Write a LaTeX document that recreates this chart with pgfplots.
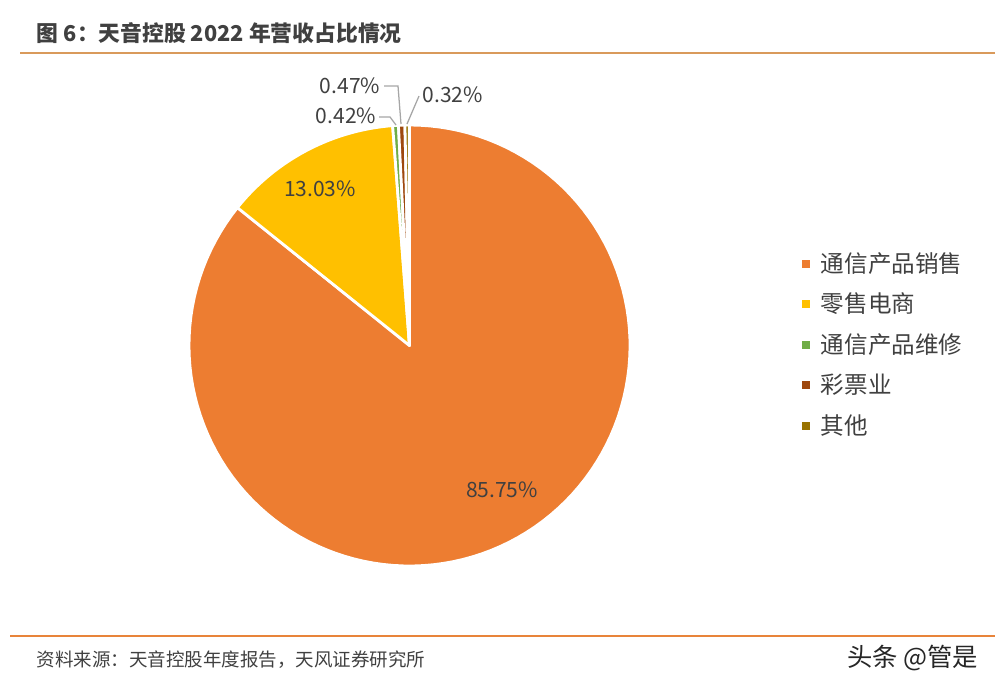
\documentclass[border=0pt]{standalone}
\usepackage{pgfplots}
\pgfplotsset{compat=1.18}
\usepackage{fontspec}
\setmainfont{Noto Sans CJK SC}
\definecolor{cA}{HTML}{ED7D31}
\definecolor{cB}{HTML}{FFC000}
\definecolor{cC}{HTML}{70AD47}
\definecolor{cD}{HTML}{9E480E}
\definecolor{cE}{HTML}{997300}
\definecolor{txt}{HTML}{404040}
\definecolor{lead}{HTML}{A6A6A6}
\definecolor{rule1}{HTML}{D99A5B}
\definecolor{rule2}{HTML}{E8843A}

% shares in percent
\def\pA{85.75}\def\pB{13.03}\def\pC{0.42}\def\pD{0.47}\def\pE{0.32}
\pgfmathsetmacro\aA{\pA*3.6}
\pgfmathsetmacro\aB{\aA+\pB*3.6}
\pgfmathsetmacro\aC{\aB+\pC*3.6}
\pgfmathsetmacro\aD{\aC+\pD*3.6}
\pgfmathsetmacro\aE{\aD+\pE*3.6}
\def\cx{409.5}\def\cy{345.5}\def\rr{220.5}

\newcommand\sector[3]{%
  \addplot[fill=#3, draw=white, line width=1.1pt, line join=round, domain=#1:#2, samples=120, variable=\t]
    ({\cx+\rr*sin(t)},{\cy-\rr*cos(t)}) -- (\cx,\cy) -- cycle;}

\begin{document}
\begin{tikzpicture}
\begin{axis}[
  scale only axis, width=13.8cm, height=9.542cm,
  xmin=0, xmax=995, ymin=0, ymax=688, y dir=reverse,
  hide axis, clip=false,
]
\sector{0}{\aA}{cA}
\sector{\aA}{\aB}{cB}
\sector{\aB}{\aC}{cC}
\sector{\aC}{\aD}{cD}
\sector{\aD}{\aE}{cE}

% value labels
\node[font=\fontsize{8.3}{9}\selectfont, text=txt] at (502,490) {85.75\%};
\node[font=\fontsize{8.3}{9}\selectfont, text=txt] at (320,189) {13.03\%};
\node[font=\fontsize{8.3}{9}\selectfont, text=txt, anchor=east, inner sep=0.5pt] at (378,116) {0.42\%};
\node[font=\fontsize{8.3}{9}\selectfont, text=txt, anchor=east, inner sep=0.5pt] at (382,86) {0.47\%};
\node[font=\fontsize{8.3}{9}\selectfont, text=txt, anchor=west, inner sep=0.5pt] at (421,95) {0.32\%};
\addplot[lead, line width=0.5pt] coordinates {(379,117) (390,117) (396,125)};
\addplot[lead, line width=0.5pt] coordinates {(384,86) (398,86) (401,124)};
\addplot[lead, line width=0.5pt] coordinates {(419,96) (407,124)};

% legend
\addplot[only marks, mark=square*, mark size=1.4pt, cA] coordinates {(806,264)};
\addplot[only marks, mark=square*, mark size=1.4pt, cB] coordinates {(806,304)};
\addplot[only marks, mark=square*, mark size=1.4pt, cC] coordinates {(806,345)};
\addplot[only marks, mark=square*, mark size=1.4pt, cD] coordinates {(806,385)};
\addplot[only marks, mark=square*, mark size=1.4pt, cE] coordinates {(806,426)};
\node[anchor=west, font=\fontsize{9.3}{10}\selectfont, text=txt] at (812,264) {通信产品销售};
\node[anchor=west, font=\fontsize{9.3}{10}\selectfont, text=txt] at (812,304) {零售电商};
\node[anchor=west, font=\fontsize{9.3}{10}\selectfont, text=txt] at (812,345) {通信产品维修};
\node[anchor=west, font=\fontsize{9.3}{10}\selectfont, text=txt] at (812,385) {彩票业};
\node[anchor=west, font=\fontsize{9.3}{10}\selectfont, text=txt] at (812,426) {其他};

% title, rules, footer
\node[anchor=west, font=\fontsize{8.6}{9}\selectfont\bfseries, text=txt] at (28,33) {图 6：天音控股 2022 年营收占比情况};
\addplot[rule1, line width=0.8pt] coordinates {(20,53) (995,53)};
\addplot[rule2, line width=0.8pt] coordinates {(10,636) (995,636)};
\node[anchor=west, font=\fontsize{7.3}{8}\selectfont, text=txt] at (28,660) {资料来源：天音控股年度报告，天风证券研究所};
\node[anchor=east, font=\fontsize{10}{11}\selectfont, text=black!85] at (987,658) {头条 @管是};
\end{axis}
\pgfresetboundingbox
\path[use as bounding box] (current axis.south west) rectangle (current axis.north east);
\end{tikzpicture}
\end{document}
